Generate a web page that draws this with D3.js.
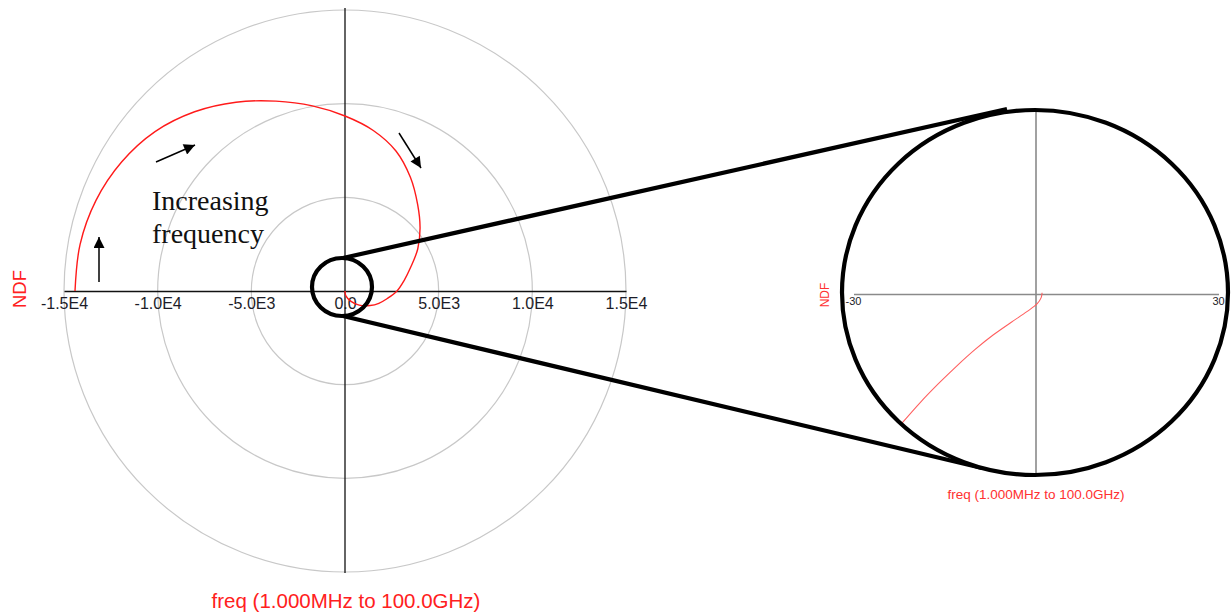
<!DOCTYPE html>
<html>
<head>
<meta charset="utf-8">
<script src="https://cdn.jsdelivr.net/npm/d3@7"></script>
<style>
  html, body { margin: 0; padding: 0; background: #ffffff; }
  svg { display: block; }
</style>
</head>
<body>
<svg id="chart" width="1232" height="616"></svg>
<script>
// ---------------- data ----------------
const tickValues = [-15000, -10000, -5000, 0, 5000, 10000, 15000];
const tickLabels = ["-1.5E4", "-1.0E4", "-5.0E3", "0.0", "5.0E3", "1.0E4", "1.5E4"];
const ringValues = [5000, 10000, 15000];

// Main Nyquist trace (real, imag), ordered by increasing frequency
const mainRe = [-14413, -14141, -13292, -11927, -10141, -8029, -5818, -3688, -1742, 0, 1510, 2720, 3496, 3877, 4007, 3883, 3511, 3154, 2776, 2261, 1806, 1341, 755, 320, 46, 0];
const mainIm = [0, 2493, 4838, 6886, 8510, 9568, 10078, 10133, 9883, 9342, 8569, 7474, 6056, 4621, 3363, 2242, 1278, 556, 0, -399, -657, -774, -755, -555, -263, 0];

// Zoomed inset (same trace near the origin)
const insetTickValues = [-30, 30];
const insetTickLabels = ["-30", "30"];
const insetRe = [-27.0, -24.0, -22.0, -19.0, -16.0, -13.0, -10.0, -7.0, -4.0, -1.5, 0.2, 0.85, 1.0];
const insetIm = [-27.2, -23.6, -21.2, -17.8, -14.7, -11.8, -9.1, -6.7, -4.6, -2.9, -1.6, -0.6, 0.2];

const axisTitleY = "NDF";
const axisTitleX = "freq (1.000MHz to 100.0GHz)";
const annotation = ["Increasing", "frequency"];

// ---------------- drawing ----------------
const svg = d3.select("#chart");
const sans = "'Liberation Sans', Arial, sans-serif";
const serif = "'Liberation Serif', 'Times New Roman', serif";

// main polar chart
const cx = 345, cy = 291, R = 281;
const x = d3.scaleLinear().domain([-15000, 15000]).range([cx - R, cx + R]);
const y = d3.scaleLinear().domain([-15000, 15000]).range([cy + R, cy - R]);
const rScale = d3.scaleLinear().domain([0, 15000]).range([0, R]);

const main = svg.append("g");
main.selectAll("circle.ring").data(ringValues).join("circle")
  .attr("class", "ring")
  .attr("cx", x(0)).attr("cy", y(0))
  .attr("r", d => rScale(d))
  .attr("fill", "none").attr("stroke", "#c8c8c8").attr("stroke-width", 1.2);

// axes
const xAxis = d3.axisBottom(x).tickValues(tickValues).tickFormat((d, i) => tickLabels[i]).tickSize(0).tickPadding(7);
const gx = main.append("g").attr("transform", `translate(0,${y(0)})`).call(xAxis);
gx.select(".domain").attr("stroke", "#111").attr("stroke-width", 1.6);
gx.selectAll("text").attr("font-family", sans).attr("font-size", 16).attr("fill", "#1c1c28");

main.append("line")
  .attr("x1", x(0)).attr("x2", x(0))
  .attr("y1", y(15000) - 2).attr("y2", y(-15000) + 1)
  .attr("stroke", "#111").attr("stroke-width", 1.3);

// trace
const mainPts = mainRe.map((r, i) => [x(r), y(mainIm[i])]);
main.append("path")
  .attr("d", d3.line().curve(d3.curveCatmullRom.alpha(0.5))(mainPts))
  .attr("fill", "none").attr("stroke", "#ff1a1a").attr("stroke-width", 1.4);

// axis titles
svg.append("text")
  .attr("transform", `translate(26,289) rotate(-90)`)
  .attr("text-anchor", "middle")
  .attr("font-family", sans).attr("font-size", 18.5).attr("fill", "#ff2020")
  .text(axisTitleY);
svg.append("text")
  .attr("x", 346).attr("y", 608)
  .attr("text-anchor", "middle")
  .attr("font-family", sans).attr("font-size", 20.5).attr("fill", "#ff2020")
  .text(axisTitleX);

// annotation
const ann = svg.append("text").attr("font-family", serif).attr("font-size", 28).attr("fill", "#111");
ann.append("tspan").attr("x", 152).attr("y", 210).text(annotation[0]);
ann.append("tspan").attr("x", 152).attr("y", 243).text(annotation[1]);

// arrows
const defs = svg.append("defs");
defs.append("marker").attr("id", "ah")
  .attr("viewBox", "0 0 10 10").attr("refX", 10).attr("refY", 5)
  .attr("markerWidth", 14).attr("markerHeight", 11).attr("markerUnits", "userSpaceOnUse")
  .attr("orient", "auto")
  .append("path").attr("d", "M0,0 L10,5 L0,10 Z").attr("fill", "#000");
const arrows = [
  [99, 282, 99, 237],
  [156, 162, 195, 145],
  [399, 133, 421, 168]
];
svg.selectAll("line.arrow").data(arrows).join("line")
  .attr("class", "arrow")
  .attr("x1", d => d[0]).attr("y1", d => d[1])
  .attr("x2", d => d[2]).attr("y2", d => d[3])
  .attr("stroke", "#000").attr("stroke-width", 1.5)
  .attr("marker-end", "url(#ah)");

// magnifier
const mg = svg.append("g");
mg.append("line").attr("x1", 343).attr("y1", 258).attr("x2", 1007).attr("y2", 109)
  .attr("stroke", "#000").attr("stroke-width", 4.2);
mg.append("line").attr("x1", 343).attr("y1", 316).attr("x2", 982).attr("y2", 468)
  .attr("stroke", "#000").attr("stroke-width", 4.2);
mg.append("ellipse").attr("cx", 342).attr("cy", 287).attr("rx", 30).attr("ry", 29)
  .attr("fill", "none").attr("stroke", "#000").attr("stroke-width", 4.2);

// inset
const icx = 1036, icy = 294, iR = 182.5;
const ix = d3.scaleLinear().domain([-30, 30]).range([icx - iR, icx + iR]);
const iy = d3.scaleLinear().domain([-30, 30]).range([icy + iR, icy - iR]);
const ecx = 1035, ecy = 292.5, erx = 193, ery = 182.5;

svg.append("ellipse").attr("cx", ecx).attr("cy", ecy).attr("rx", erx).attr("ry", ery)
  .attr("fill", "#fff").attr("stroke", "none");

defs.append("clipPath").attr("id", "insetClip")
  .append("ellipse").attr("cx", ecx).attr("cy", ecy).attr("rx", erx - 1).attr("ry", ery - 1);

const inset = svg.append("g").attr("clip-path", "url(#insetClip)");
const ixAxis = d3.axisBottom(ix).tickValues(insetTickValues).tickSize(0).tickFormat(() => "");
const igx = inset.append("g").attr("transform", `translate(0,${iy(0)})`).call(ixAxis);
igx.select(".domain").attr("stroke", "#8a8a8a").attr("stroke-width", 1.6);
inset.append("line")
  .attr("x1", ix(0)).attr("x2", ix(0))
  .attr("y1", ecy - ery).attr("y2", ecy + ery)
  .attr("stroke", "#8a8a8a").attr("stroke-width", 1.6);

const insetPts = insetRe.map((r, i) => [ix(r), iy(insetIm[i])]);
inset.append("path")
  .attr("d", d3.line().curve(d3.curveCatmullRom.alpha(0.5))(insetPts))
  .attr("fill", "none").attr("stroke", "#ff6060").attr("stroke-width", 1.1);

svg.selectAll("text.itick").data(insetTickValues).join("text")
  .attr("class", "itick")
  .attr("x", d => ix(d)).attr("y", iy(0) + 11)
  .attr("text-anchor", "middle")
  .attr("font-family", sans).attr("font-size", 11).attr("fill", "#1c1c28")
  .text((d, i) => insetTickLabels[i]);

svg.append("ellipse").attr("cx", ecx).attr("cy", ecy).attr("rx", erx).attr("ry", ery)
  .attr("fill", "none").attr("stroke", "#000").attr("stroke-width", 4.2);

svg.append("text")
  .attr("transform", `translate(829,295) rotate(-90)`)
  .attr("text-anchor", "middle")
  .attr("font-family", sans).attr("font-size", 12).attr("fill", "#ff3030")
  .text(axisTitleY);
svg.append("text")
  .attr("x", 1036).attr("y", 499)
  .attr("text-anchor", "middle")
  .attr("font-family", sans).attr("font-size", 13.5).attr("fill", "#ff3030")
  .text(axisTitleX);
</script>
</body>
</html>
